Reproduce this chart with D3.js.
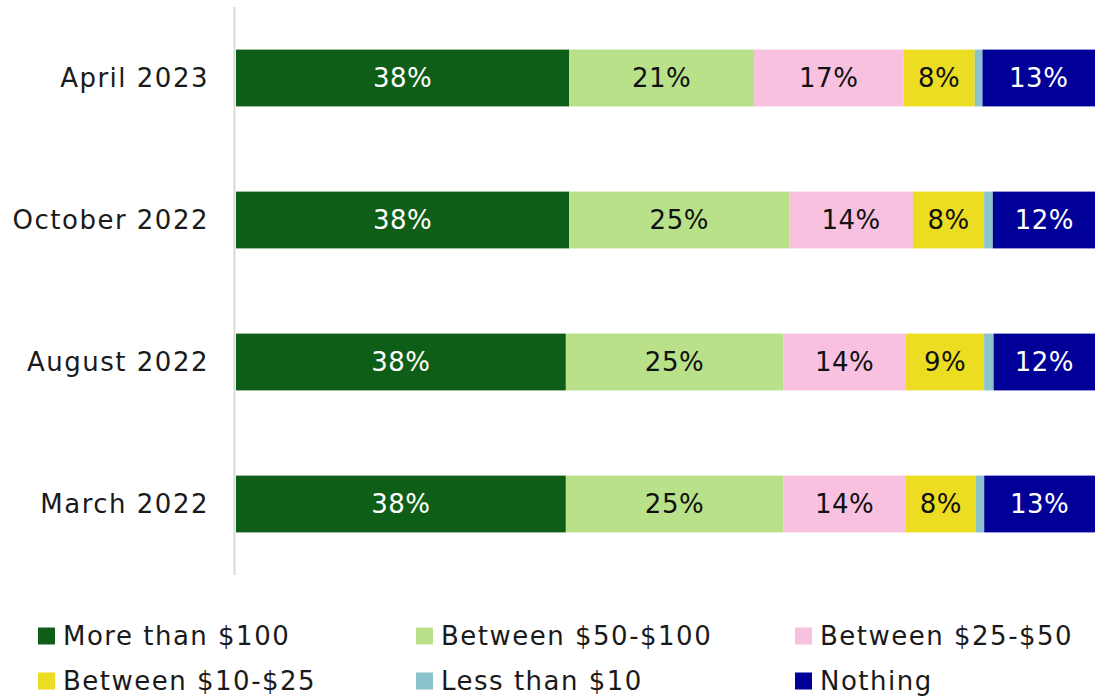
<!DOCTYPE html>
<html>
<head>
<meta charset="utf-8">
<script src="https://cdn.jsdelivr.net/npm/d3@7"></script>
<style>
  body { margin: 0; background: #fff; }
  text { font-family: "DejaVu Sans", sans-serif; }
</style>
</head>
<body>
<svg id="chart" width="1095" height="700"></svg>
<script>
/* ======================= DATA ======================= */
const categories = ["April 2023", "October 2022", "August 2022", "March 2022"];
const seriesNames = ["More than $100", "Between $50-$100", "Between $25-$50",
                     "Between $10-$25", "Less than $10", "Nothing"];
const seriesColors = ["#0f5e17", "#b9e18a", "#f8c1df", "#ecdc22", "#8ac3cb", "#000099"];
const labelColors = ["#fff", "#111", "#111", "#111", "#111", "#fff"];

// share of respondents per period, in series order
const moreThan100 = [38.8, 38.8, 38.4, 38.4];
const between50to100 = [21.5, 25.6, 25.3, 25.3];
const between25to50 = [17.4, 14.4, 14.3, 14.3];
const between10to25 = [8.3, 8.3, 9.1, 8.1];
const lessThan10 = [0.9, 1.0, 1.1, 1.0];
const nothing = [13.1, 12.0, 11.8, 12.9];

// labels as printed on the chart
const shownLabels = [
    [38, 21, 17, 8, null, 13],
    [38, 25, 14, 8, null, 12],
    [38, 25, 14, 9, null, 12],
    [38, 25, 14, 8, null, 13]
];

const seriesValues = [moreThan100, between50to100, between25to50,
                      between10to25, lessThan10, nothing];

/* ===================== DRAWING ====================== */
const svg = d3.select("#chart");

const rows = categories.map((c, i) => {
    let row = { category: c };
    seriesNames.forEach((s, j) => row[s] = seriesValues[j][i]);
    return row;
});

const stacked = d3.stack().keys(seriesNames)(rows);

const x = d3.scaleLinear()
            .domain([0, 100])
            .range([236, 1095]);

const y = d3.scaleBand()
            .domain(categories)
            .range([7, 575])
            .paddingInner(0.6)
            .paddingOuter(0.3);

// vertical axis line
svg.append("line")
   .attr("x1", 234.5).attr("x2", 234.5)
   .attr("y1", 7).attr("y2", 575)
   .attr("stroke", "#d9d9d9")
   .attr("stroke-width", 2);

const layer = svg.selectAll("g.series")
                 .data(stacked)
                 .join("g")
                 .attr("class", "series")
                 .attr("fill", (d, i) => seriesColors[i]);

layer.selectAll("rect")
     .data(d => d.map(p => ({ p: p, cat: p.data.category })))
     .join("rect")
     .attr("x", d => x(d.p[0]))
     .attr("y", d => y(d.cat))
     .attr("width", d => x(d.p[1]) - x(d.p[0]))
     .attr("height", y.bandwidth());

layer.each(function(s, si) {
    d3.select(this).selectAll("text")
      .data(s.map((p, ci) => ({ p: p, cat: p.data.category, lab: shownLabels[ci][si] }))
             .filter(d => d.lab !== null))
      .join("text")
      .attr("x", d => (x(d.p[0]) + x(d.p[1])) / 2)
      .attr("y", d => y(d.cat) + y.bandwidth() / 2)
      .attr("dy", "0.36em")
      .attr("text-anchor", "middle")
      .attr("fill", labelColors[si])
      .style("font-size", "26px")
      .style("letter-spacing", "0.5px")
      .text(d => d.lab + "%");
});

// category labels
svg.selectAll("text.cat")
   .data(categories)
   .join("text")
   .attr("class", "cat")
   .attr("x", 209)
   .attr("y", d => y(d) + y.bandwidth() / 2)
   .attr("dy", "0.36em")
   .attr("text-anchor", "end")
   .attr("fill", "#1a1a1a")
   .style("font-size", "26px")
   .style("letter-spacing", "1.5px")
   .text(d => d);

// legend, three columns
const legendX = [38, 416, 795];
const legendY = [636, 681];

const legend = svg.selectAll("g.legend")
                  .data(seriesNames)
                  .join("g")
                  .attr("class", "legend")
                  .attr("transform", (d, i) => `translate(${legendX[i % 3]},${legendY[Math.floor(i / 3)]})`);

legend.append("rect")
      .attr("x", 0).attr("y", -8.5)
      .attr("width", 17).attr("height", 17)
      .attr("fill", (d, i) => seriesColors[i]);

legend.append("text")
      .attr("x", 25)
      .attr("dy", "0.36em")
      .attr("fill", "#1a1a1a")
      .style("font-size", "26px")
      .style("letter-spacing", "1.5px")
      .text(d => d);
</script>
</body>
</html>
